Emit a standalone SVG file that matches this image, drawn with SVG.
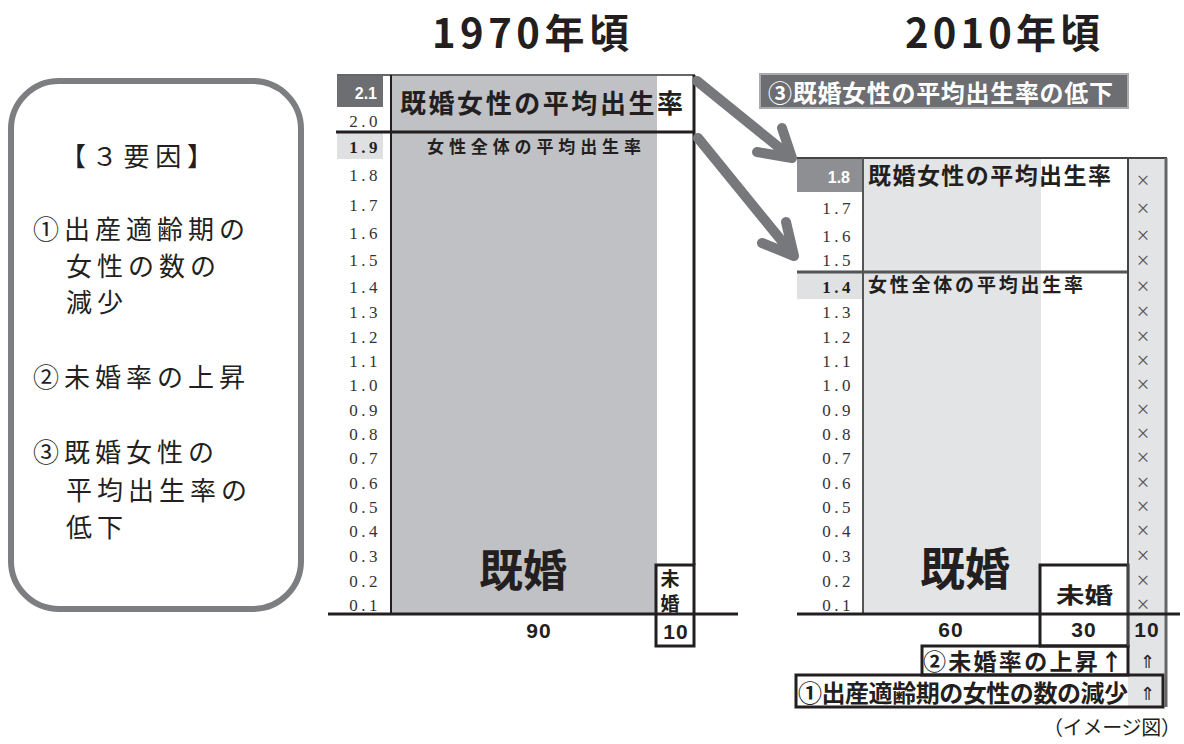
<svg xmlns="http://www.w3.org/2000/svg" width="1184" height="744" viewBox="0 0 1184 744">
<style>
.ax{font-family:"Liberation Serif",serif;font-size:17px;fill:#333;text-anchor:end;letter-spacing:3.5px}
.axb{font-family:"Liberation Serif",serif;font-size:17px;font-weight:700;fill:#231f20;text-anchor:end;letter-spacing:3.5px}
.axw{font-family:"Liberation Sans",sans-serif;font-size:16px;font-weight:700;fill:#fff;text-anchor:end}
.jb{font-family:"Noto Sans CJK JP","Noto Sans CJK SC",sans-serif;font-weight:700;fill:#231f20}
.jr{font-family:"Noto Sans CJK JP","Noto Sans CJK SC",sans-serif;font-weight:400;fill:#231f20}
.num{font-family:"Liberation Sans",sans-serif;font-weight:700;font-size:21px;fill:#231f20;text-anchor:middle;letter-spacing:1px}
.x{font-family:"Liberation Serif",serif;font-size:23px;fill:#555;text-anchor:middle}
.ln{fill:none;stroke:#231f20}
.arrow{fill:none;stroke:#77787b;stroke-width:10;stroke-linecap:round;stroke-linejoin:round}
</style>

<g id="titles">
<text class="jb" x="432" y="48" font-size="40" font-weight="500" textLength="197" lengthAdjust="spacing">1970年頃</text>
<text class="jb" x="905" y="48" font-size="40" font-weight="500" textLength="195" lengthAdjust="spacing">2010年頃</text>
</g>

<g id="factors-box">
<rect x="11" y="81" width="290" height="528" rx="48" ry="48" fill="#fff" stroke="#7d7e81" stroke-width="6"/>
<g class="jr" font-size="26" letter-spacing="5">
<text x="60" y="166" textLength="158" lengthAdjust="spacing">【３要因】</text>
<text x="33" y="239">①出産適齢期の</text>
<text x="66" y="276">女性の数の</text>
<text x="66" y="312">減少</text>
<text x="33" y="387">②未婚率の上昇</text>
<text x="33" y="462">③既婚女性の</text>
<text x="66" y="500">平均出生率の</text>
<text x="66" y="537">低下</text>
</g>
</g>

<g id="chart-1970">
<rect x="392" y="75" width="265" height="539" fill="#c0c1c5"/>
<rect x="337" y="75" width="46" height="32" fill="#6d6e71"/>
<rect x="337" y="133" width="46" height="26" fill="#dfe0e2"/>
<rect x="656" y="565" width="38" height="81" fill="#e4e5e7" class="ln" stroke-width="3"/>
<path d="M337,75H695" stroke="#666" stroke-width="2" fill="none"/>
<path d="M336,132H695" class="ln" stroke-width="3"/>
<path d="M391,75V614" class="ln" stroke-width="2"/>
<path d="M694,75V565" class="ln" stroke-width="3"/>
<path d="M328,614H738" class="ln" stroke-width="3"/>
<text class="axw" x="377" y="99">2.1</text>
<text class="ax" x="381" y="127">2.0</text>
<text class="axb" x="381" y="153">1.9</text>
<text class="ax" x="381" y="181">1.8</text>
<text class="ax" x="381" y="211">1.7</text>
<text class="ax" x="381" y="239">1.6</text>
<text class="ax" x="381" y="266">1.5</text>
<text class="ax" x="381" y="293">1.4</text>
<text class="ax" x="381" y="318">1.3</text>
<text class="ax" x="381" y="343">1.2</text>
<text class="ax" x="381" y="367">1.1</text>
<text class="ax" x="381" y="391">1.0</text>
<text class="ax" x="381" y="416">0.9</text>
<text class="ax" x="381" y="440">0.8</text>
<text class="ax" x="381" y="464">0.7</text>
<text class="ax" x="381" y="489">0.6</text>
<text class="ax" x="381" y="513">0.5</text>
<text class="ax" x="381" y="537">0.4</text>
<text class="ax" x="381" y="562">0.3</text>
<text class="ax" x="381" y="587">0.2</text>
<text class="ax" x="381" y="611">0.1</text>
<text class="jb" x="400" y="113" font-size="26" textLength="283" lengthAdjust="spacing">既婚女性の平均出生率</text>
<text class="jb" x="427" y="153" font-size="17" textLength="214" lengthAdjust="spacing">女性全体の平均出生率</text>
<text class="jb" x="523" y="587" font-size="44" text-anchor="middle">既婚</text>
<text class="jb" x="670" y="586" font-size="19" text-anchor="middle">未</text>
<text class="jb" x="670" y="611" font-size="19" text-anchor="middle">婚</text>
<text class="num" x="539" y="638">90</text>
<text class="num" x="676" y="639" font-size="22">10</text>
</g>

<g id="chart-2010">
<rect x="864" y="158" width="177" height="456" fill="#e3e4e6"/>
<rect x="1128" y="158" width="38" height="549" fill="#e3e4e6"/>
<rect x="797" y="158" width="65" height="34" fill="#8e8f92"/>
<rect x="797" y="273" width="65" height="26" fill="#e0e1e3"/>
<rect x="1040" y="565" width="88" height="81" fill="#e4e5e7" class="ln" stroke-width="3"/>
<rect x="922" y="646" width="206" height="29" fill="#e4e5e7" class="ln" stroke-width="3"/>
<rect x="796" y="675" width="367" height="32" fill="#e4e5e7" class="ln" stroke-width="3"/>
<path d="M797,158H1167" stroke="#444" stroke-width="2" fill="none"/>
<path d="M797,272H1128" stroke="#555" stroke-width="3" fill="none"/>
<path d="M863,158V614" stroke="#555" stroke-width="2" fill="none"/>
<path d="M1128,158V646" stroke="#444" stroke-width="2" fill="none"/>
<path d="M1166,158V707" stroke="#666" stroke-width="3" fill="none"/>
<path d="M797,614H1180" class="ln" stroke-width="3"/>
<text class="axw" x="850" y="183">1.8</text>
<text class="ax" x="854" y="214">1.7</text>
<text class="ax" x="854" y="242">1.6</text>
<text class="ax" x="854" y="266">1.5</text>
<text class="axb" x="854" y="293">1.4</text>
<text class="ax" x="854" y="318">1.3</text>
<text class="ax" x="854" y="343">1.2</text>
<text class="ax" x="854" y="367">1.1</text>
<text class="ax" x="854" y="391">1.0</text>
<text class="ax" x="854" y="416">0.9</text>
<text class="ax" x="854" y="440">0.8</text>
<text class="ax" x="854" y="464">0.7</text>
<text class="ax" x="854" y="489">0.6</text>
<text class="ax" x="854" y="513">0.5</text>
<text class="ax" x="854" y="537">0.4</text>
<text class="ax" x="854" y="562">0.3</text>
<text class="ax" x="854" y="587">0.2</text>
<text class="ax" x="854" y="611">0.1</text>
<g class="x">
<text x="1143" y="188">×</text>
<text x="1143" y="216">×</text>
<text x="1143" y="243">×</text>
<text x="1143" y="268">×</text>
<text x="1143" y="294">×</text>
<text x="1143" y="319">×</text>
<text x="1143" y="344">×</text>
<text x="1143" y="368">×</text>
<text x="1143" y="392">×</text>
<text x="1143" y="417">×</text>
<text x="1143" y="441">×</text>
<text x="1143" y="465">×</text>
<text x="1143" y="490">×</text>
<text x="1143" y="514">×</text>
<text x="1143" y="538">×</text>
<text x="1143" y="563">×</text>
<text x="1143" y="588">×</text>
<text x="1143" y="612">×</text>
</g>
<text class="jb" x="868" y="184" font-size="23" textLength="243" lengthAdjust="spacing">既婚女性の平均出生率</text>
<text class="jb" x="868" y="292" font-size="19" textLength="215" lengthAdjust="spacing">女性全体の平均出生率</text>
<text class="jb" x="965" y="586" font-size="45" text-anchor="middle">既婚</text>
<text class="jb" x="1056" y="603" font-size="22" textLength="57" lengthAdjust="spacingAndGlyphs">未婚</text>
<text class="num" x="951" y="637">60</text>
<text class="num" x="1084" y="637">30</text>
<text class="num" x="1147" y="637">10</text>
<text class="jb" x="923" y="670" font-size="23" textLength="200" lengthAdjust="spacing">②未婚率の上昇↑</text>
<text class="jb" x="798" y="702" font-size="24" textLength="330" lengthAdjust="spacing">①出産適齢期の女性の数の減少</text>
<text class="jr" x="1147" y="668" font-size="18" text-anchor="middle" font-family="DejaVu Sans">⇑</text>
<text class="jr" x="1147" y="700" font-size="18" text-anchor="middle" font-family="DejaVu Sans">⇑</text>
</g>

<g id="banner">
<rect x="760" y="74" width="368" height="34" fill="#6d6e71" stroke="#a9aaad" stroke-width="2"/>
<text class="jb" x="768" y="102" font-size="24" textLength="345" lengthAdjust="spacing" style="fill:#fff">③既婚女性の平均出生率の低下</text>
</g>

<g id="connectors">
<path class="arrow" d="M697,81L792,158M782,128L792,158L757,152"/>
<path class="arrow" d="M698,138L794,256M786,222L794,256L762,243"/>
</g>

<text class="jr" x="1043" y="735" font-size="20" textLength="138" lengthAdjust="spacing">（イメージ図）</text>
</svg>
